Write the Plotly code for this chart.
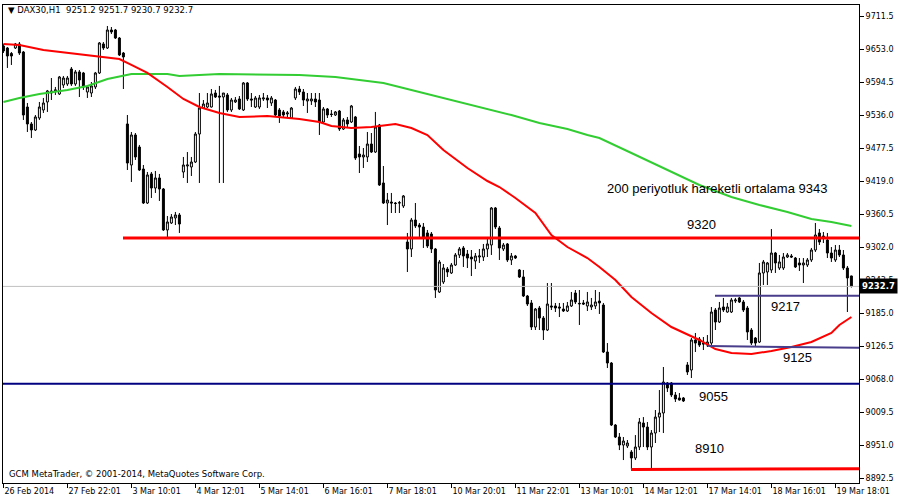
import plotly.graph_objects as go

# ---------------- data ----------------
bars = list(range(213))

opens = [
9658.9, 9655.3, 9645.6, 9655.3, 9662.4, 9648.2, 9550.7, 9520.6, 9509.9, 9531.2,
9545.4, 9559.6, 9575.5, 9579.1, 9573.8, 9589.7, 9591.5, 9618.1, 9591.5, 9612.8,
9611.0, 9577.3, 9575.5, 9586.2, 9611.0, 9662.4, 9655.3, 9687.2, 9687.2, 9673.0,
9646.4, 9520.6, 9447.9, 9501.1, 9479.8, 9440.8, 9380.5, 9432.0, 9407.1, 9424.9,
9405.4, 9332.7, 9345.1, 9354.0, 9359.3, 9435.5, 9446.1, 9444.4, 9453.2, 9502.8,
9548.9, 9550.7, 9550.7, 9575.5, 9570.2, 9568.4, 9572.0, 9545.4, 9559.6, 9564.9,
9545.4, 9593.3, 9564.9, 9550.7, 9550.7, 9564.9, 9566.7, 9557.8, 9563.1, 9545.4,
9541.9, 9538.3, 9531.2, 9566.7, 9582.6, 9577.3, 9561.4, 9561.4, 9564.9, 9563.1,
9524.1, 9547.2, 9538.3, 9536.5, 9543.6, 9511.7, 9527.7, 9524.1, 9533.0, 9467.4,
9462.1, 9462.1, 9485.1, 9470.9, 9518.8, 9416.0, 9380.5, 9382.3, 9380.5, 9380.5,
9375.2, 9311.4, 9299.0, 9350.4, 9341.5, 9338.0, 9327.4, 9325.6, 9299.0, 9222.8,
9240.5, 9263.5, 9256.5, 9270.6, 9288.4, 9300.8, 9290.1, 9284.8, 9277.7, 9284.8,
9284.8, 9299.0, 9306.1, 9371.7, 9336.2, 9299.0, 9307.9, 9279.5, 9286.6, 9261.8,
9249.4, 9215.7, 9203.3, 9160.7, 9194.4, 9176.6, 9155.4, 9198.0, 9198.0, 9196.2,
9192.6, 9189.1, 9198.0, 9221.0, 9201.5, 9203.3, 9198.0, 9196.2, 9198.0, 9206.8,
9199.7, 9116.4, 9096.9, 8987.0, 8965.7, 8951.5, 8949.8, 8939.1, 8928.5, 8948.0,
8990.5, 8983.4, 8948.0, 8972.8, 9001.1, 9008.3, 9061.5, 9061.5, 9040.2, 9034.9,
9034.9, 9093.4, 9084.5, 9137.7, 9139.4, 9132.3, 9128.8, 9132.3, 9190.8, 9169.6,
9196.2, 9187.3, 9187.3, 9206.8, 9212.2, 9205.1, 9194.4, 9155.4, 9141.2, 9134.1,
9256.5, 9258.2, 9261.8, 9291.9, 9265.3, 9265.3, 9284.8, 9286.6, 9283.0, 9274.2,
9270.6, 9270.6, 9279.5, 9297.2, 9327.4, 9322.0, 9314.9, 9291.9, 9279.5, 9297.2,
9288.4, 9265.3, 9251.2]

highs = [
9662.4, 9657.1, 9648.2, 9664.2, 9665.9, 9650.0, 9557.8, 9524.1, 9536.5, 9559.6,
9566.7, 9580.9, 9602.1, 9586.2, 9605.7, 9605.7, 9605.7, 9621.6, 9616.3, 9616.3,
9612.8, 9589.7, 9595.0, 9612.8, 9665.9, 9665.9, 9694.3, 9692.5, 9689.0, 9674.8,
9648.2, 9536.5, 9506.4, 9504.6, 9483.4, 9447.9, 9435.5, 9435.5, 9437.3, 9432.0,
9407.1, 9357.5, 9361.0, 9364.6, 9362.8, 9462.1, 9470.9, 9462.1, 9506.4, 9575.5,
9563.1, 9575.5, 9582.6, 9580.9, 9588.0, 9575.5, 9575.5, 9566.7, 9568.4, 9570.2,
9595.0, 9595.0, 9575.5, 9570.2, 9572.0, 9575.5, 9572.0, 9570.2, 9564.9, 9548.9,
9545.4, 9543.6, 9550.7, 9586.2, 9588.0, 9582.6, 9575.5, 9575.5, 9575.5, 9575.5,
9550.7, 9548.9, 9545.4, 9543.6, 9545.4, 9531.2, 9533.0, 9554.3, 9534.8, 9481.6,
9478.0, 9506.4, 9504.6, 9541.9, 9520.6, 9446.1, 9398.3, 9398.3, 9382.3, 9384.1,
9394.7, 9327.4, 9354.0, 9380.5, 9345.1, 9345.1, 9332.7, 9329.1, 9300.8, 9279.5,
9272.4, 9267.1, 9274.2, 9291.9, 9302.5, 9304.3, 9297.2, 9297.2, 9291.9, 9299.0,
9307.9, 9320.3, 9373.4, 9373.4, 9339.8, 9309.6, 9309.6, 9291.9, 9288.4, 9263.5,
9261.8, 9217.5, 9208.6, 9194.4, 9198.0, 9180.2, 9238.7, 9238.7, 9203.3, 9203.3,
9203.3, 9205.1, 9222.8, 9226.3, 9226.3, 9208.6, 9222.8, 9212.2, 9226.3, 9222.8,
9203.3, 9132.3, 9098.6, 8988.7, 8972.8, 8965.7, 8960.4, 8942.6, 8969.2, 8999.4,
9001.1, 8992.3, 8978.1, 9013.6, 9049.0, 9089.8, 9063.2, 9063.2, 9045.5, 9043.7,
9036.6, 9098.6, 9141.2, 9150.1, 9143.0, 9143.0, 9146.5, 9196.2, 9194.4, 9205.1,
9212.2, 9203.3, 9212.2, 9212.2, 9213.9, 9208.6, 9198.0, 9158.9, 9143.0, 9274.2,
9279.5, 9276.0, 9334.4, 9293.7, 9288.4, 9291.9, 9291.9, 9290.1, 9284.8, 9283.0,
9283.0, 9283.0, 9300.8, 9345.1, 9334.4, 9329.1, 9327.4, 9302.5, 9306.1, 9306.1,
9297.2, 9268.9, 9251.7]

lows = [
9646.4, 9619.9, 9625.2, 9653.5, 9642.9, 9527.7, 9506.4, 9495.8, 9508.2, 9527.7,
9540.1, 9541.9, 9563.1, 9572.0, 9572.0, 9584.4, 9588.0, 9588.0, 9588.0, 9568.4,
9580.9, 9566.7, 9568.4, 9582.6, 9609.2, 9651.8, 9653.5, 9680.1, 9671.3, 9641.1,
9582.6, 9439.0, 9417.8, 9456.8, 9437.3, 9378.8, 9378.8, 9389.4, 9398.3, 9384.1,
9331.0, 9318.5, 9343.3, 9341.5, 9327.4, 9424.9, 9416.0, 9428.4, 9451.4, 9416.0,
9548.0, 9548.9, 9549.8, 9566.7, 9416.0, 9416.0, 9541.9, 9541.9, 9557.8, 9545.4,
9543.6, 9561.4, 9550.7, 9548.9, 9547.2, 9561.4, 9548.9, 9552.5, 9533.0, 9522.4,
9533.0, 9531.2, 9529.5, 9563.1, 9572.0, 9552.5, 9540.1, 9554.3, 9550.7, 9501.1,
9522.4, 9531.2, 9533.0, 9534.8, 9508.2, 9509.9, 9515.3, 9522.4, 9456.8, 9433.7,
9442.6, 9453.2, 9469.2, 9469.2, 9410.7, 9378.8, 9341.5, 9362.8, 9362.8, 9362.8,
9371.7, 9258.2, 9284.8, 9336.2, 9320.3, 9300.8, 9300.8, 9291.9, 9212.2, 9221.0,
9237.0, 9249.4, 9254.7, 9268.9, 9283.0, 9267.1, 9265.3, 9251.1, 9263.5, 9274.2,
9277.7, 9284.8, 9288.4, 9334.4, 9279.5, 9295.4, 9276.0, 9270.6, 9281.3, 9247.6,
9213.9, 9198.0, 9155.4, 9155.4, 9155.4, 9137.7, 9153.6, 9190.8, 9187.3, 9178.4,
9187.3, 9187.3, 9196.2, 9201.5, 9164.3, 9199.7, 9189.1, 9190.8, 9192.6, 9183.8,
9114.6, 9088.0, 8985.2, 8963.9, 8942.6, 8924.9, 8946.2, 8908.5, 8924.9, 8942.6,
8948.0, 8942.6, 8908.5, 8955.1, 8974.5, 8972.8, 9045.5, 9036.6, 9027.8, 9030.4,
9027.8, 9075.7, 9070.3, 9116.4, 9125.3, 9119.9, 9125.3, 9128.8, 9155.4, 9167.8,
9187.3, 9186.0, 9185.5, 9203.3, 9203.3, 9187.3, 9137.7, 9128.8, 9125.3, 9132.3,
9235.2, 9235.2, 9256.5, 9256.5, 9261.8, 9261.8, 9283.0, 9283.0, 9265.3, 9260.0,
9238.7, 9267.1, 9276.0, 9293.7, 9306.1, 9309.6, 9283.0, 9276.0, 9276.0, 9284.8,
9261.8, 9187.3, 9230.7]

closes = [
9650.0, 9641.1, 9641.1, 9662.4, 9646.4, 9536.5, 9520.6, 9509.9, 9533.0, 9550.7,
9557.8, 9579.1, 9579.1, 9580.9, 9603.9, 9602.1, 9602.1, 9591.5, 9612.8, 9598.6,
9586.2, 9586.2, 9588.0, 9611.0, 9664.2, 9655.3, 9687.2, 9683.7, 9673.0, 9642.9,
9639.4, 9451.4, 9501.1, 9462.1, 9439.0, 9380.5, 9430.2, 9407.1, 9424.9, 9405.4,
9332.7, 9346.9, 9355.7, 9359.3, 9343.3, 9447.9, 9447.9, 9453.2, 9502.8, 9548.9,
9556.0, 9557.8, 9573.8, 9568.4, 9568.4, 9575.5, 9545.4, 9563.1, 9563.1, 9547.2,
9593.3, 9564.9, 9563.1, 9566.7, 9566.7, 9566.7, 9563.1, 9566.7, 9536.5, 9534.8,
9536.5, 9540.1, 9548.9, 9582.6, 9577.3, 9563.1, 9564.9, 9564.9, 9559.6, 9524.1,
9547.2, 9536.5, 9537.4, 9541.9, 9511.7, 9527.7, 9520.6, 9552.5, 9460.3, 9462.1,
9465.6, 9485.1, 9470.9, 9515.3, 9412.5, 9380.5, 9385.8, 9380.5, 9379.6, 9381.0,
9393.0, 9299.0, 9350.4, 9339.8, 9338.0, 9318.5, 9304.3, 9299.0, 9226.3, 9276.0,
9265.3, 9258.2, 9270.6, 9288.4, 9299.0, 9286.6, 9283.0, 9281.3, 9286.6, 9286.6,
9299.0, 9307.9, 9371.7, 9338.0, 9300.8, 9306.1, 9279.5, 9286.6, 9283.0, 9249.4,
9215.7, 9201.5, 9160.7, 9192.6, 9176.6, 9155.4, 9201.5, 9196.2, 9194.4, 9194.4,
9189.1, 9198.0, 9208.6, 9205.1, 9202.5, 9201.5, 9205.1, 9199.7, 9205.1, 9203.3,
9116.4, 9096.9, 8987.0, 8965.7, 8951.5, 8958.6, 8955.1, 8928.5, 8948.0, 8992.3,
8983.4, 8948.0, 8972.8, 9001.1, 9008.3, 9063.2, 9052.6, 9040.2, 9033.1, 9031.3,
9029.6, 9081.0, 9137.7, 9132.3, 9128.8, 9130.6, 9134.1, 9187.3, 9169.6, 9194.4,
9190.8, 9196.2, 9208.6, 9208.6, 9205.1, 9190.8, 9151.9, 9132.3, 9132.3, 9256.5,
9276.0, 9274.2, 9291.9, 9274.2, 9276.0, 9284.8, 9288.4, 9284.8, 9267.1, 9270.6,
9274.2, 9279.5, 9297.2, 9323.8, 9311.4, 9318.5, 9291.9, 9283.0, 9297.2, 9288.4,
9265.3, 9247.6, 9232.7]

# moving averages (bar index, value)
ma_fast_bars = [0, 4, 10, 16, 24, 29, 32, 36, 41, 45, 49, 54, 59, 66, 74, 79, 82, 87, 92, 96,
                98, 102, 106, 110, 116, 121, 124, 128, 133, 137, 141, 146, 149, 153, 157, 162,
                167, 174, 178, 182, 187, 192, 197, 202, 207, 209, 212]
ma_fast_vals = [9662.4, 9660.6, 9651.8, 9646.4, 9639.4, 9635.8, 9625.2, 9611.0, 9586.2, 9564.9,
                9550.7, 9540.1, 9533.0, 9534.8, 9529.5, 9524.1, 9517.0, 9513.5, 9515.3, 9518.8,
                9520.6, 9513.5, 9501.1, 9474.5, 9442.6, 9419.5, 9408.9, 9389.4, 9362.8, 9323.8,
                9302.5, 9283.0, 9267.1, 9244.0, 9213.9, 9185.5, 9160.7, 9137.7, 9121.7, 9114.6,
                9112.9, 9118.2, 9125.3, 9134.1, 9150.1, 9164.3, 9178.4]
ma200_bars = [0, 4, 9, 16, 21, 26, 32, 41, 44, 54, 74, 83, 91, 95, 99, 104, 109, 116, 121, 127,
              134, 141, 146, 149, 157, 166, 174, 182, 189, 196, 202, 207, 212]
ma200_vals = [9559.6, 9566.7, 9573.8, 9580.9, 9588.0, 9600.4, 9609.2, 9609.2, 9605.7, 9609.2,
              9607.4, 9603.9, 9596.8, 9593.3, 9586.2, 9577.3, 9568.4, 9556.0, 9547.2, 9536.5,
              9522.4, 9511.7, 9501.1, 9495.8, 9469.2, 9439.0, 9412.4, 9391.2, 9377.0, 9364.6,
              9352.2, 9346.9, 9339.8]

tick_bars = [0, 16, 32, 48, 64, 80, 96, 112, 128, 144, 160, 176, 192, 208]
tick_labels = ["26 Feb 2014", "27 Feb 22:01", "3 Mar 10:01", "4 Mar 12:01", "5 Mar 14:01",
               "6 Mar 16:01", "7 Mar 18:01", "10 Mar 20:01", "11 Mar 22:01", "13 Mar 10:01",
               "14 Mar 12:01", "17 Mar 14:01", "18 Mar 16:01", "19 Mar 18:01"]
price_ticks = [8892.5, 8951.0, 9009.5, 9068.0, 9126.5, 9185.0, 9243.5, 9302.0, 9360.5,
               9419.0, 9477.5, 9536.0, 9594.5, 9653.0, 9711.5]

level_9320 = 9318.5
last_price = 9232.7
level_9055 = 9060.2
level_9217 = 9216.0
level_9125 = [9127.0, 9124.0]
level_8910 = [8908.0, 8909.6]

UI = "DejaVu Sans"
TXT = "Liberation Sans, Arial"

fig = go.Figure()

fig.add_trace(go.Candlestick(
    x=bars, open=opens, high=highs, low=lows, close=closes,
    increasing=dict(line=dict(color="black", width=1), fillcolor="white"),
    decreasing=dict(line=dict(color="black", width=1), fillcolor="black"),
    whiskerwidth=0, showlegend=False, hoverinfo="skip"))

fig.add_trace(go.Scatter(x=ma200_bars, y=ma200_vals, mode="lines",
                         line=dict(color="#32CD32", width=2), showlegend=False, hoverinfo="skip"))
fig.add_trace(go.Scatter(x=ma_fast_bars, y=ma_fast_vals, mode="lines",
                         line=dict(color="#FF0000", width=2), showlegend=False, hoverinfo="skip"))

XMAX = 213.9
shapes = [
    dict(type="line", xref="x", yref="y", x0=-0.1, x1=XMAX, y0=last_price, y1=last_price,
         line=dict(color="#C0C0C0", width=1)),
    dict(type="line", xref="x", yref="y", x0=29.9, x1=XMAX, y0=level_9320, y1=level_9320,
         line=dict(color="#FF0000", width=3)),
    dict(type="line", xref="x", yref="y", x0=-0.1, x1=XMAX, y0=level_9055, y1=level_9055,
         line=dict(color="#000080", width=2)),
    dict(type="line", xref="x", yref="y", x0=177.9, x1=XMAX, y0=level_9217, y1=level_9217,
         line=dict(color="#483D8B", width=2)),
    dict(type="line", xref="x", yref="y", x0=176.2, x1=XMAX, y0=level_9125[0], y1=level_9125[1],
         line=dict(color="#483D8B", width=2)),
    dict(type="line", xref="x", yref="y", x0=156.9, x1=XMAX, y0=level_8910[0], y1=level_8910[1],
         line=dict(color="#FF0000", width=3)),
]

annotations = [
    dict(xref="paper", yref="paper", x=0, y=1, xanchor="left", yanchor="middle", xshift=3, yshift=-5,
         text="▼ DAX30,H1  9251.2 9251.7 9230.7 9232.7", showarrow=False,
         font=dict(family=UI, size=8.5, color="black")),
    dict(xref="paper", yref="paper", x=0, y=0, xanchor="left", yanchor="middle", xshift=4, yshift=9,
         text="GCM MetaTrader, © 2001-2014, MetaQuotes Software Corp.", showarrow=False,
         font=dict(family=UI, size=8.5, color="black")),
    dict(xref="x", yref="y", x=150.4, y=9405.4, xanchor="left", yanchor="middle",
         text="200 periyotluk hareketli ortalama 9343", showarrow=False,
         font=dict(family=TXT, size=13, color="black")),
    dict(xref="x", yref="y", x=170.4, y=9343.3, xanchor="left", yanchor="middle",
         text="9320", showarrow=False, font=dict(family=TXT, size=13, color="black")),
    dict(xref="x", yref="y", x=191.4, y=9196.2, xanchor="left", yanchor="middle",
         text="9217", showarrow=False, font=dict(family=TXT, size=13, color="black")),
    dict(xref="x", yref="y", x=194.4, y=9105.8, xanchor="left", yanchor="middle",
         text="9125", showarrow=False, font=dict(family=TXT, size=13, color="black")),
    dict(xref="x", yref="y", x=173.4, y=9038.4, xanchor="left", yanchor="middle",
         text="9055", showarrow=False, font=dict(family=TXT, size=13, color="black")),
    dict(xref="x", yref="y", x=172.4, y=8946.2, xanchor="left", yanchor="middle",
         text="8910", showarrow=False, font=dict(family=TXT, size=13, color="black")),
    dict(xref="paper", yref="y", x=1, y=last_price, xanchor="left", yanchor="middle", xshift=0,
         text="<b>9232.7</b>", showarrow=False, bgcolor="black", borderpad=2,
         font=dict(family=UI, size=8.5, color="white")),
]

fig.update_layout(
    width=900, height=500,
    margin=dict(l=3, r=41, t=5, b=17, pad=0),
    paper_bgcolor="white", plot_bgcolor="white",
    font=dict(family=UI, size=8, color="black"),
    showlegend=False,
    shapes=shapes, annotations=annotations,
    xaxis=dict(range=[-0.1, XMAX], showgrid=False, zeroline=False,
               showline=True, linecolor="black", linewidth=1, mirror=True,
               ticks="outside", ticklen=4, tickcolor="black", tickwidth=1,
               tickvals=tick_bars, ticktext=tick_labels,
               ticklabelposition="outside right",
               tickfont=dict(family=UI, size=8, color="black"),
               rangeslider=dict(visible=False)),
    yaxis=dict(side="right", range=[8884.2, 9731.5], showgrid=False, zeroline=False,
               showline=True, linecolor="black", linewidth=1, mirror=True,
               ticks="outside", ticklen=4, tickcolor="black", tickwidth=1,
               tickvals=price_ticks, tickformat=".1f",
               tickfont=dict(family=UI, size=8, color="black")),
)

fig.write_html("out.html", config={"displayModeBar": False},
               post_script="document.body.style.margin='0';document.body.style.overflow='hidden';")
